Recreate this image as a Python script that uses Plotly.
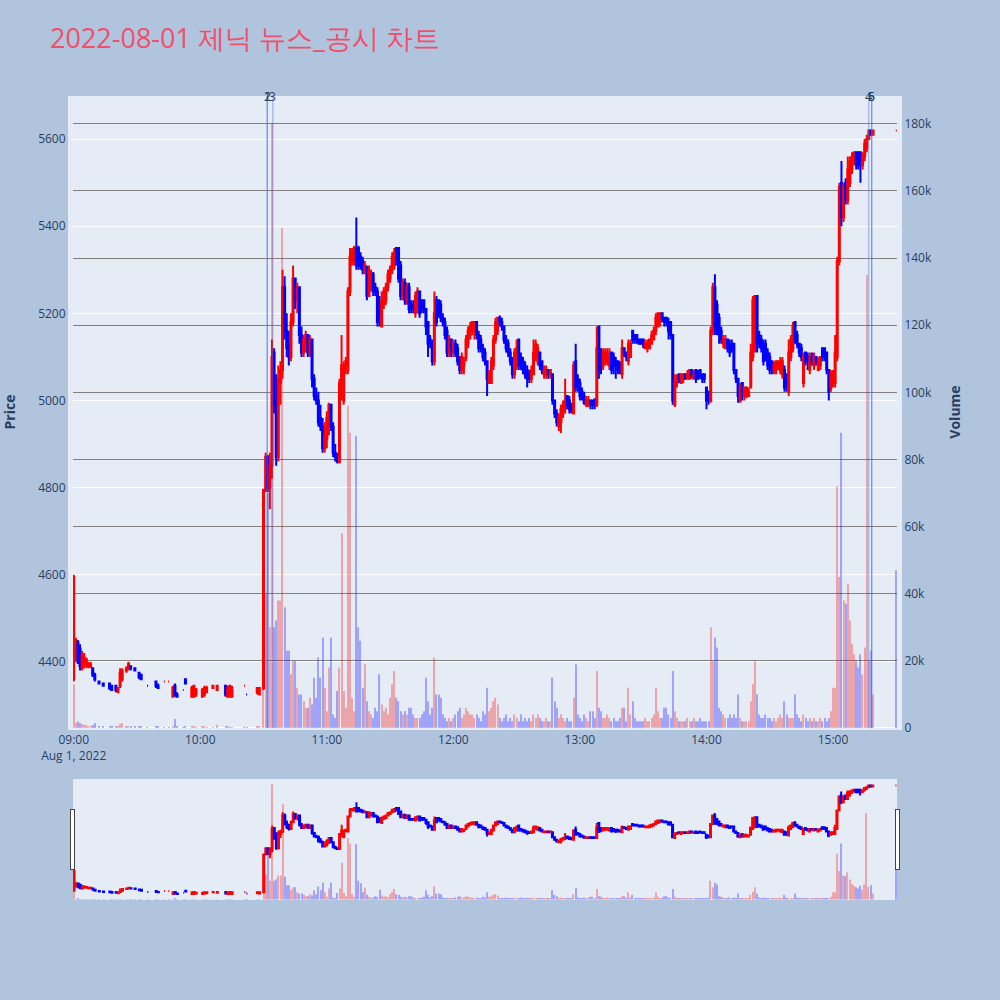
import pandas as pd
import plotly.graph_objects as go

TITLE = "2022-08-01 제닉 뉴스_공시 차트"
DAY = "2022-08-01"

# ---- morning (sparse trading): minute offsets from 09:00 ----
am_minutes = [0, 1, 2, 3, 4, 5, 6, 7, 8, 9, 10, 12, 14, 17, 18, 20, 21, 22, 23, 25, 26, 27, 29, 31, 32,
              35, 39, 40, 43, 45, 47, 48, 49, 52, 53, 56, 57, 58, 61, 62, 63, 66, 68, 72, 73, 74, 75,
              81, 82, 87, 88]
am_open = [4360, 4410, 4445, 4430, 4385, 4400, 4395, 4390, 4390, 4385, 4370, 4355, 4350, 4350, 4345, 4345, 4330,
           4345, 4360, 4380, 4385, 4390, 4385, 4375, 4370, 4345, 4355, 4345, 4355, 4355, 4320, 4345, 4325,
           4335, 4360, 4320, 4320, 4325, 4320, 4325, 4330, 4340, 4335, 4345, 4320, 4320, 4320, 4345, 4325,
           4330, 4325]
am_high = [4600, 4455, 4450, 4440, 4425, 4420, 4410, 4400, 4400, 4385, 4375, 4355, 4350, 4350, 4345, 4345, 4340,
           4385, 4385, 4390, 4400, 4390, 4385, 4375, 4370, 4345, 4355, 4350, 4355, 4355, 4345, 4350, 4330,
           4335, 4360, 4345, 4345, 4340, 4340, 4345, 4345, 4345, 4345, 4345, 4345, 4345, 4345, 4345, 4325,
           4340, 4340]
am_low = [4355, 4400, 4395, 4380, 4380, 4385, 4385, 4385, 4385, 4365, 4355, 4350, 4345, 4335, 4335, 4330, 4330,
          4340, 4355, 4375, 4380, 4380, 4380, 4360, 4360, 4345, 4340, 4340, 4355, 4355, 4320, 4320, 4320,
          4335, 4350, 4320, 4320, 4320, 4320, 4320, 4330, 4340, 4335, 4320, 4320, 4320, 4320, 4345, 4325,
          4325, 4325]
am_close = [4595, 4450, 4400, 4390, 4415, 4410, 4405, 4395, 4395, 4370, 4360, 4350, 4345, 4340, 4335, 4335, 4340,
            4375, 4380, 4385, 4395, 4385, 4380, 4365, 4360, 4345, 4345, 4340, 4355, 4355, 4340, 4325, 4320,
            4335, 4350, 4340, 4345, 4335, 4335, 4340, 4340, 4345, 4345, 4325, 4340, 4345, 4340, 4345, 4325,
            4340, 4340]
am_volume = [13000, 1500, 2000, 1500, 1200, 1000, 800, 600, 700, 900, 1500, 500, 400, 600, 500, 400, 300,
             1200, 1500, 500, 600, 400, 300, 500, 400, 200, 400, 300, 200, 200, 500, 2700, 300,
             200, 300, 400, 300, 200, 300, 300, 200, 200, 1000, 300, 300, 200, 200, 200, 200,
             300, 300]

# ---- continuous trading 10:30 .. 15:19, one candle per minute ----
pm_start = "10:30"
pm_open = [
    4340, 4795, 4870, 4800, 4850, 5110, 5000, 4870, 5040, 5070,
    5260, 5160, 5130, 5100, 5180, 5280, 5230, 5260, 5150, 5110,
    5130, 5150, 5110, 5140, 5050, 5010, 5000, 4960, 4940, 4890,
    4910, 4950, 4990, 4940, 4880, 4870, 4860, 5040, 5000, 5080,
    5070, 5250, 5330, 5320, 5350, 5350, 5330, 5320, 5300, 5300,
    5240, 5260, 5290, 5260, 5250, 5220, 5170, 5220, 5230, 5260,
    5280, 5300, 5310, 5350, 5350, 5310, 5240, 5270, 5230, 5260,
    5220, 5220, 5200, 5220, 5250, 5230, 5230, 5210, 5180, 5140,
    5130, 5090, 5230, 5230, 5220, 5190, 5180, 5160, 5110, 5140,
    5110, 5130, 5120, 5100, 5070, 5080, 5100, 5130, 5150, 5160,
    5170, 5180, 5150, 5140, 5120, 5110, 5090, 5040, 5040, 5080,
    5140, 5160, 5190, 5180, 5170, 5140, 5130, 5110, 5090, 5060,
    5080, 5140, 5100, 5090, 5080, 5070, 5060, 5050, 5060, 5100,
    5090, 5110, 5090, 5060, 5060, 5070, 5060, 5060, 5000, 4970,
    4940, 4950, 4970, 4980, 5010, 5000, 4990, 4970, 5090, 5050,
    5040, 5020, 5010, 4990, 4990, 5000, 5000, 5000, 4990, 5170,
    5110, 5080, 5090, 5090, 5080, 5110, 5100, 5090, 5090, 5080,
    5060, 5120, 5110, 5090, 5100, 5160, 5150, 5150, 5140, 5140,
    5140, 5120, 5120, 5120, 5130, 5140, 5160, 5170, 5180, 5200,
    5190, 5190, 5180, 5180, 5150, 4990, 5040, 5060, 5040, 5050,
    5060, 5050, 5050, 5070, 5050, 5070, 5060, 5070, 5060, 5060,
    5030, 5020, 5000, 5160, 5260, 5220, 5190, 5160, 5130, 5120,
    5140, 5130, 5130, 5130, 5070, 5050, 5000, 5040, 5010, 5010,
    5010, 5030, 5100, 5120, 5240, 5150, 5140, 5130, 5130, 5110,
    5100, 5090, 5070, 5070, 5080, 5070, 5060, 5070, 5060, 5020,
    5100, 5120, 5180, 5150, 5130, 5120, 5040, 5110, 5100, 5070,
    5100, 5080, 5100, 5070, 5080, 5120, 5120, 5110, 5070, 5030,
    5040, 5040, 5100, 5320, 5500, 5420, 5500, 5460, 5500, 5530,
    5550, 5570, 5570, 5570, 5540, 5560, 5580, 5600, 5620, 5610,
]
pm_high = [
    4795, 4880, 4875, 4880, 5140, 5120, 5060, 5080, 5090, 5300,
    5285, 5200, 5160, 5200, 5310, 5280, 5270, 5260, 5170, 5150,
    5160, 5150, 5150, 5140, 5060, 5030, 5020, 4990, 4960, 4950,
    4975, 4995, 4990, 4950, 4900, 4880, 5050, 5150, 5090, 5100,
    5260, 5350, 5350, 5355, 5420, 5355, 5340, 5330, 5320, 5310,
    5310, 5300, 5295, 5270, 5260, 5240, 5250, 5260, 5270, 5300,
    5310, 5340, 5350, 5350, 5350, 5320, 5280, 5280, 5270, 5270,
    5230, 5230, 5250, 5260, 5250, 5230, 5230, 5210, 5180, 5150,
    5140, 5250, 5240, 5230, 5230, 5200, 5190, 5170, 5150, 5140,
    5140, 5140, 5130, 5100, 5110, 5100, 5150, 5170, 5180, 5180,
    5180, 5180, 5160, 5150, 5130, 5120, 5090, 5070, 5100, 5150,
    5190, 5190, 5195, 5190, 5170, 5150, 5140, 5120, 5100, 5120,
    5140, 5140, 5110, 5100, 5090, 5080, 5070, 5080, 5140, 5140,
    5130, 5110, 5090, 5080, 5080, 5070, 5070, 5060, 5000, 4980,
    4970, 4990, 5000, 5050, 5010, 5010, 4995, 5090, 5130, 5060,
    5050, 5030, 5020, 5010, 5010, 5000, 5000, 5005, 5170, 5170,
    5120, 5120, 5120, 5120, 5120, 5110, 5110, 5100, 5090, 5090,
    5140, 5120, 5110, 5140, 5140, 5160, 5150, 5150, 5140, 5140,
    5140, 5140, 5140, 5140, 5160, 5170, 5200, 5200, 5200, 5200,
    5190, 5190, 5190, 5180, 5150, 5060, 5060, 5060, 5060, 5060,
    5060, 5070, 5070, 5070, 5070, 5070, 5070, 5070, 5060, 5060,
    5030, 5020, 5170, 5270, 5290, 5230, 5200, 5170, 5150, 5150,
    5140, 5140, 5140, 5130, 5070, 5050, 5040, 5040, 5030, 5030,
    5030, 5130, 5240, 5240, 5240, 5160, 5150, 5140, 5140, 5120,
    5110, 5090, 5090, 5090, 5090, 5100, 5100, 5080, 5060, 5140,
    5150, 5180, 5180, 5160, 5130, 5130, 5110, 5110, 5110, 5110,
    5110, 5110, 5100, 5100, 5100, 5120, 5120, 5110, 5070, 5070,
    5070, 5150, 5330, 5500, 5550, 5500, 5510, 5560, 5560, 5570,
    5570, 5570, 5570, 5570, 5570, 5600, 5610, 5620, 5620, 5620,
]
pm_low = [
    4335, 4790, 4790, 4750, 4820, 4970, 4850, 4860, 4990, 5050,
    5140, 5100, 5080, 5090, 5170, 5210, 5200, 5130, 5100, 5100,
    5110, 5100, 5100, 5030, 5000, 4990, 4940, 4930, 4880, 4880,
    4890, 4920, 4930, 4870, 4860, 4855, 4855, 5000, 4990, 5060,
    5060, 5240, 5310, 5310, 5300, 5300, 5300, 5290, 5290, 5230,
    5240, 5250, 5240, 5240, 5170, 5170, 5170, 5210, 5220, 5250,
    5270, 5290, 5300, 5310, 5270, 5230, 5230, 5220, 5220, 5200,
    5200, 5200, 5190, 5200, 5190, 5200, 5200, 5150, 5100, 5120,
    5080, 5080, 5170, 5190, 5180, 5170, 5140, 5100, 5100, 5100,
    5100, 5100, 5080, 5060, 5060, 5060, 5090, 5120, 5140, 5150,
    5140, 5140, 5110, 5110, 5090, 5080, 5010, 5040, 5040, 5070,
    5130, 5150, 5170, 5160, 5130, 5110, 5100, 5080, 5050, 5050,
    5070, 5070, 5070, 5060, 5050, 5030, 5040, 5040, 5060, 5090,
    5080, 5070, 5060, 5050, 5050, 5050, 5050, 4990, 4960, 4940,
    4930, 4925, 4960, 4970, 4980, 4970, 4970, 4970, 5020, 5020,
    5000, 5000, 4990, 4985, 4985, 4980, 4980, 4980, 4985, 5050,
    5060, 5070, 5080, 5080, 5070, 5060, 5060, 5050, 5060, 5060,
    5050, 5100, 5090, 5080, 5100, 5130, 5130, 5130, 5130, 5130,
    5120, 5120, 5110, 5120, 5130, 5140, 5150, 5170, 5170, 5180,
    5170, 5170, 5140, 5140, 4990, 4985, 5030, 5040, 5040, 5040,
    5050, 5050, 5050, 5050, 5050, 5040, 5050, 5050, 5040, 5040,
    4980, 4990, 4995, 5150, 5150, 5150, 5130, 5130, 5120, 5120,
    5110, 5100, 5110, 5060, 5040, 4995, 4995, 5000, 5000, 5005,
    5010, 5030, 5090, 5110, 5110, 5120, 5110, 5080, 5090, 5070,
    5060, 5060, 5060, 5060, 5070, 5060, 5050, 5020, 5020, 5010,
    5090, 5110, 5130, 5120, 5100, 5090, 5030, 5080, 5070, 5060,
    5080, 5070, 5080, 5070, 5070, 5090, 5090, 5060, 5000, 5020,
    5030, 5030, 5090, 5310, 5400, 5410, 5450, 5450, 5490, 5520,
    5540, 5530, 5530, 5500, 5530, 5550, 5570, 5600, 5610, 5610,
]
pm_close = [
    4795, 4870, 4800, 4850, 5100, 4990, 4870, 5050, 5070, 5260,
    5160, 5120, 5100, 5180, 5280, 5230, 5260, 5150, 5110, 5140,
    5150, 5110, 5140, 5050, 5010, 5000, 4950, 4940, 4890, 4920,
    4960, 4990, 4940, 4880, 4870, 4860, 5040, 5080, 5080, 5090,
    5250, 5330, 5340, 5350, 5310, 5320, 5310, 5300, 5310, 5240,
    5300, 5290, 5250, 5250, 5180, 5200, 5230, 5250, 5260, 5290,
    5300, 5330, 5340, 5320, 5280, 5240, 5270, 5230, 5260, 5210,
    5210, 5210, 5240, 5250, 5200, 5210, 5210, 5170, 5130, 5130,
    5090, 5200, 5180, 5200, 5190, 5180, 5150, 5110, 5140, 5120,
    5130, 5110, 5090, 5070, 5100, 5090, 5140, 5160, 5170, 5180,
    5180, 5150, 5120, 5120, 5100, 5090, 5050, 5060, 5090, 5140,
    5180, 5190, 5180, 5170, 5140, 5120, 5110, 5090, 5060, 5110,
    5120, 5080, 5080, 5070, 5060, 5050, 5050, 5070, 5110, 5130,
    5120, 5080, 5070, 5070, 5070, 5060, 5070, 5000, 4970, 4950,
    4960, 4980, 4990, 5000, 4990, 4980, 4975, 5080, 5030, 5040,
    5010, 5010, 4995, 5000, 5000, 4990, 4990, 4990, 5120, 5070,
    5080, 5110, 5110, 5110, 5100, 5070, 5080, 5080, 5070, 5070,
    5120, 5110, 5100, 5130, 5130, 5140, 5140, 5140, 5130, 5130,
    5130, 5130, 5130, 5140, 5150, 5160, 5190, 5200, 5200, 5190,
    5180, 5180, 5160, 5150, 5000, 5040, 5050, 5050, 5060, 5060,
    5050, 5060, 5070, 5060, 5060, 5050, 5050, 5060, 5050, 5050,
    5000, 5000, 5160, 5260, 5170, 5160, 5150, 5140, 5140, 5140,
    5120, 5110, 5120, 5070, 5050, 5010, 5030, 5010, 5030, 5030,
    5020, 5110, 5230, 5240, 5130, 5130, 5120, 5090, 5100, 5080,
    5070, 5070, 5080, 5090, 5090, 5090, 5090, 5030, 5030, 5110,
    5140, 5170, 5140, 5130, 5110, 5100, 5100, 5090, 5090, 5100,
    5090, 5100, 5090, 5090, 5100, 5100, 5100, 5070, 5020, 5060,
    5060, 5110, 5320, 5490, 5420, 5490, 5460, 5530, 5550, 5560,
    5570, 5540, 5540, 5550, 5560, 5590, 5600, 5620, 5610, 5620,
]
pm_volume = [
    60000, 40000, 70000, 30000, 180000, 30000, 32000, 38000, 38000, 149000,
    36000, 23000, 23000, 16000, 20000, 20000, 12000, 10000, 10000, 8000,
    6000, 6000, 9000, 7000, 15000, 9000, 21000, 15000, 27000, 12000,
    5000, 18000, 27000, 4000, 3000, 11000, 18000, 58000, 11000, 6000,
    96000, 88000, 9000, 5000, 87000, 30000, 26000, 12000, 19000, 8000,
    5000, 4000, 3000, 6000, 5000, 16000, 7000, 5000, 6000, 4000,
    9000, 13000, 17000, 9000, 8000, 5000, 4000, 5000, 4000, 6000,
    6000, 4000, 3000, 3000, 3000, 4000, 5000, 15000, 8000, 4000,
    6000, 21000, 10000, 10000, 9000, 4000, 3000, 2000, 3000, 2000,
    3000, 4000, 5000, 6000, 3000, 4000, 6000, 5000, 4000, 4000,
    3000, 4000, 3000, 2000, 5000, 4000, 12000, 5000, 6000, 8000,
    9000, 7000, 3000, 2000, 3000, 4000, 2000, 3000, 2000, 4000,
    3000, 2000, 4000, 2000, 3000, 2000, 3000, 2000, 4000, 3000,
    4000, 3000, 2000, 2000, 3000, 2000, 2000, 15000, 8000, 6000,
    3000, 4000, 3000, 2000, 3000, 2000, 2000, 9000, 19000, 4000,
    3000, 2000, 4000, 3000, 2000, 5000, 5000, 3000, 17000, 6000,
    5000, 3000, 3000, 4000, 3000, 2000, 3000, 2000, 2000, 3000,
    6000, 6000, 2000, 12000, 4000, 8000, 3000, 2000, 2000, 2000,
    2000, 3000, 2000, 2000, 3000, 4000, 12000, 5000, 3000, 3000,
    6000, 6000, 4000, 3000, 17000, 5000, 3000, 2000, 2000, 2000,
    2000, 3000, 2000, 2000, 3000, 2000, 2000, 3000, 2000, 2000,
    2000, 2000, 30000, 20000, 27000, 24000, 6000, 5000, 4000, 3000,
    3000, 4000, 3000, 4000, 3000, 10000, 3000, 2000, 2000, 2000,
    2000, 8000, 13000, 20000, 10000, 4000, 3000, 3000, 4000, 3000,
    3000, 2000, 3000, 2000, 3000, 4000, 3000, 8000, 4000, 3000,
    3000, 3000, 10000, 4000, 3000, 2000, 4000, 3000, 2000, 3000,
    2000, 3000, 2000, 2000, 3000, 2000, 3000, 2000, 3000, 5000,
    12000, 12000, 72000, 45000, 88000, 38000, 37000, 43000, 32000, 25000,
    22000, 20000, 18000, 22000, 16000, 24000, 135000, 20000, 23000, 10000,
]

# ---- closing auction 15:30 ----
close_time = "15:30"
close_ohlcv = dict(open=5620, high=5620, low=5620, close=5620, volume=47000)

# ---- news / disclosure markers ----
news_labels = ["1", "2", "3", "4", "5", "6"]
news_times = ["10:31:45", "10:31:45", "10:34:25", "15:16:55", "15:18:20", "15:18:20"]

# ---------------- assemble ----------------
am_times = [pd.Timestamp(DAY) + pd.Timedelta(hours=9, minutes=m) for m in am_minutes]
pm_times = list(pd.date_range(f"{DAY} {pm_start}", periods=len(pm_close), freq="min"))
times = am_times + pm_times + [pd.Timestamp(f"{DAY} {close_time}")]
opens = am_open + pm_open + [close_ohlcv["open"]]
highs = am_high + pm_high + [close_ohlcv["high"]]
lows = am_low + pm_low + [close_ohlcv["low"]]
closes = am_close + pm_close + [close_ohlcv["close"]]
volumes = am_volume + pm_volume + [close_ohlcv["volume"]]

vol_colors = ["red" if c > o else "blue" for o, c in zip(opens, closes)]

PLOT_BG = "#E5ECF6"

fig = go.Figure()
fig.add_trace(go.Candlestick(
    x=times, open=opens, high=highs, low=lows, close=closes,
    increasing=dict(line=dict(color="red"), fillcolor="red"),
    decreasing=dict(line=dict(color="blue"), fillcolor="blue"),
    showlegend=False, name="Price"))
fig.add_trace(go.Bar(
    x=times, y=volumes, width=32000,
    marker=dict(color=vol_colors, line=dict(width=0)),
    opacity=0.3, yaxis="y2", showlegend=False, name="Volume"))

for lbl, t in zip(news_labels, news_times):
    ts = f"{DAY} {t}"
    fig.add_shape(type="line", x0=ts, x1=ts, xref="x", y0=0, y1=1, yref="paper",
                  line=dict(color="rgba(65,105,225,0.45)", width=1.2))
    fig.add_annotation(x=ts, y=1, yref="paper", yanchor="middle", text=lbl,
                       showarrow=False, font=dict(size=12, color="#2a3f5f"))

fig.update_layout(
    template="plotly",
    width=1000, height=1000,
    paper_bgcolor="#B0C4DE",
    plot_bgcolor=PLOT_BG,
    title=dict(text=TITLE, x=0.05, font=dict(size=27, color="#EF4F6A")),
    margin=dict(l=73, r=103, t=96, b=100),
    showlegend=False,
    xaxis=dict(range=[f"{DAY} 08:59:40", f"{DAY} 15:30:20"],
               rangeslider=dict(visible=True),
               showline=True, linewidth=2, linecolor=PLOT_BG),
    yaxis=dict(title=dict(text="<b>Price</b>", standoff=21), range=[4248, 5699],
               automargin=False,
               showline=True, linewidth=5, linecolor=PLOT_BG),
    yaxis2=dict(title=dict(text="<b>Volume</b>", standoff=21), overlaying="y", side="right",
                range=[0, 188300], gridcolor="gray", showgrid=True, automargin=False,
                showline=True, linewidth=5, linecolor=PLOT_BG),
)

fig.write_html("out.html", config={"displayModeBar": False},
               post_script="document.body.style.margin='0px';")
